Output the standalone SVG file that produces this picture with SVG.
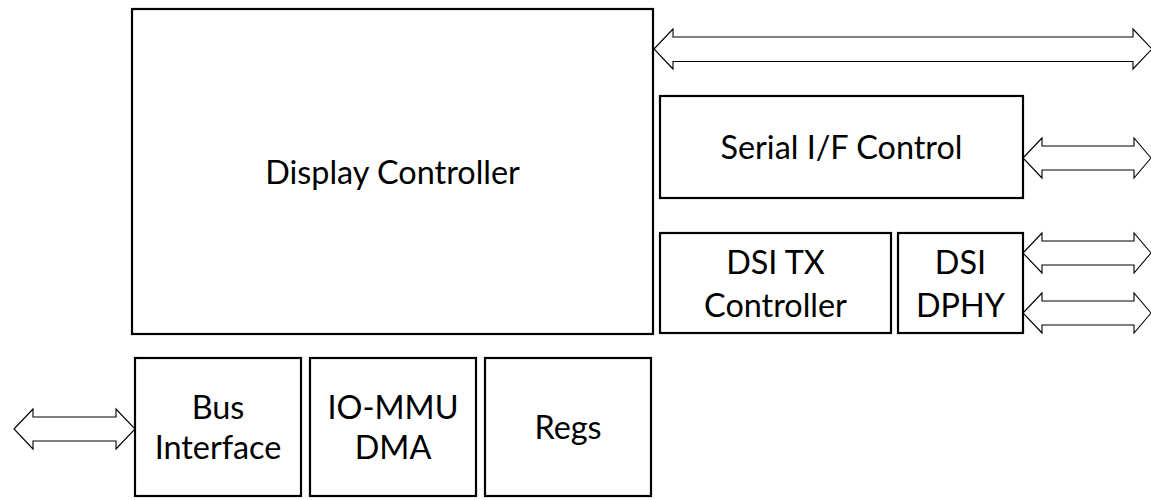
<svg xmlns="http://www.w3.org/2000/svg" width="1151" height="500" viewBox="0 0 1151 500">
<style>
.box{fill:#fff;stroke:#000;stroke-width:2.2}
.lbl{font-family:Lato,"Open Sans","Liberation Sans",sans-serif;font-size:32.4px;fill:#000;text-anchor:middle}
.arr{fill:#fff;stroke:#000;stroke-width:1.1;stroke-linejoin:miter}
</style>
<rect width="1151" height="500" fill="#fff"/>
<g id="display-controller">
<rect class="box" x="132" y="9" width="521" height="325"/>
<text class="lbl" x="392.5" y="184">Display Controller</text>
</g>
<g id="serial-if-control">
<rect class="box" x="660" y="96" width="363" height="102"/>
<text class="lbl" x="841.5" y="159">Serial I/F Control</text>
</g>
<g id="dsi-tx-controller">
<rect class="box" x="660" y="233" width="231" height="100"/>
<text class="lbl" x="775.5" y="273.5">DSI TX</text>
<text class="lbl" x="775.5" y="316.5">Controller</text>
</g>
<g id="dsi-dphy">
<rect class="box" x="898" y="233" width="125" height="100"/>
<text class="lbl" x="960.5" y="273.5">DSI</text>
<text class="lbl" x="960.5" y="316.5">DPHY</text>
</g>
<g id="bus-interface">
<rect class="box" x="135" y="358" width="166" height="138"/>
<text class="lbl" x="218" y="419">Bus</text>
<text class="lbl" x="218" y="459">Interface</text>
</g>
<g id="io-mmu-dma">
<rect class="box" x="310" y="358" width="166" height="138"/>
<text class="lbl" x="393" y="419">IO-MMU</text>
<text class="lbl" x="393" y="459">DMA</text>
</g>
<g id="regs">
<rect class="box" x="485" y="358" width="166" height="138"/>
<text class="lbl" x="568" y="439">Regs</text>
</g>
<g id="connectors">
<polygon class="arr" points="654,49 673,29 673,37 1133,37 1133,29 1152,49 1133,69 1133,61.5 673,61.5 673,69"/>
<polygon class="arr" points="1023,158 1042,138 1042,146 1134,146 1134,138 1151,158 1134,178 1134,170 1042,170 1042,178"/>
<polygon class="arr" points="1023,253 1042,233 1042,241 1134,241 1134,233 1151,253 1134,273 1134,265 1042,265 1042,273"/>
<polygon class="arr" points="1023,313 1042,293 1042,301 1134,301 1134,293 1151,313 1134,333 1134,325 1042,325 1042,333"/>
<polygon class="arr" points="14,429 33,409 33,417 116,417 116,409 135,429 116,449 116,441 33,441 33,449"/>
</g>
</svg>
